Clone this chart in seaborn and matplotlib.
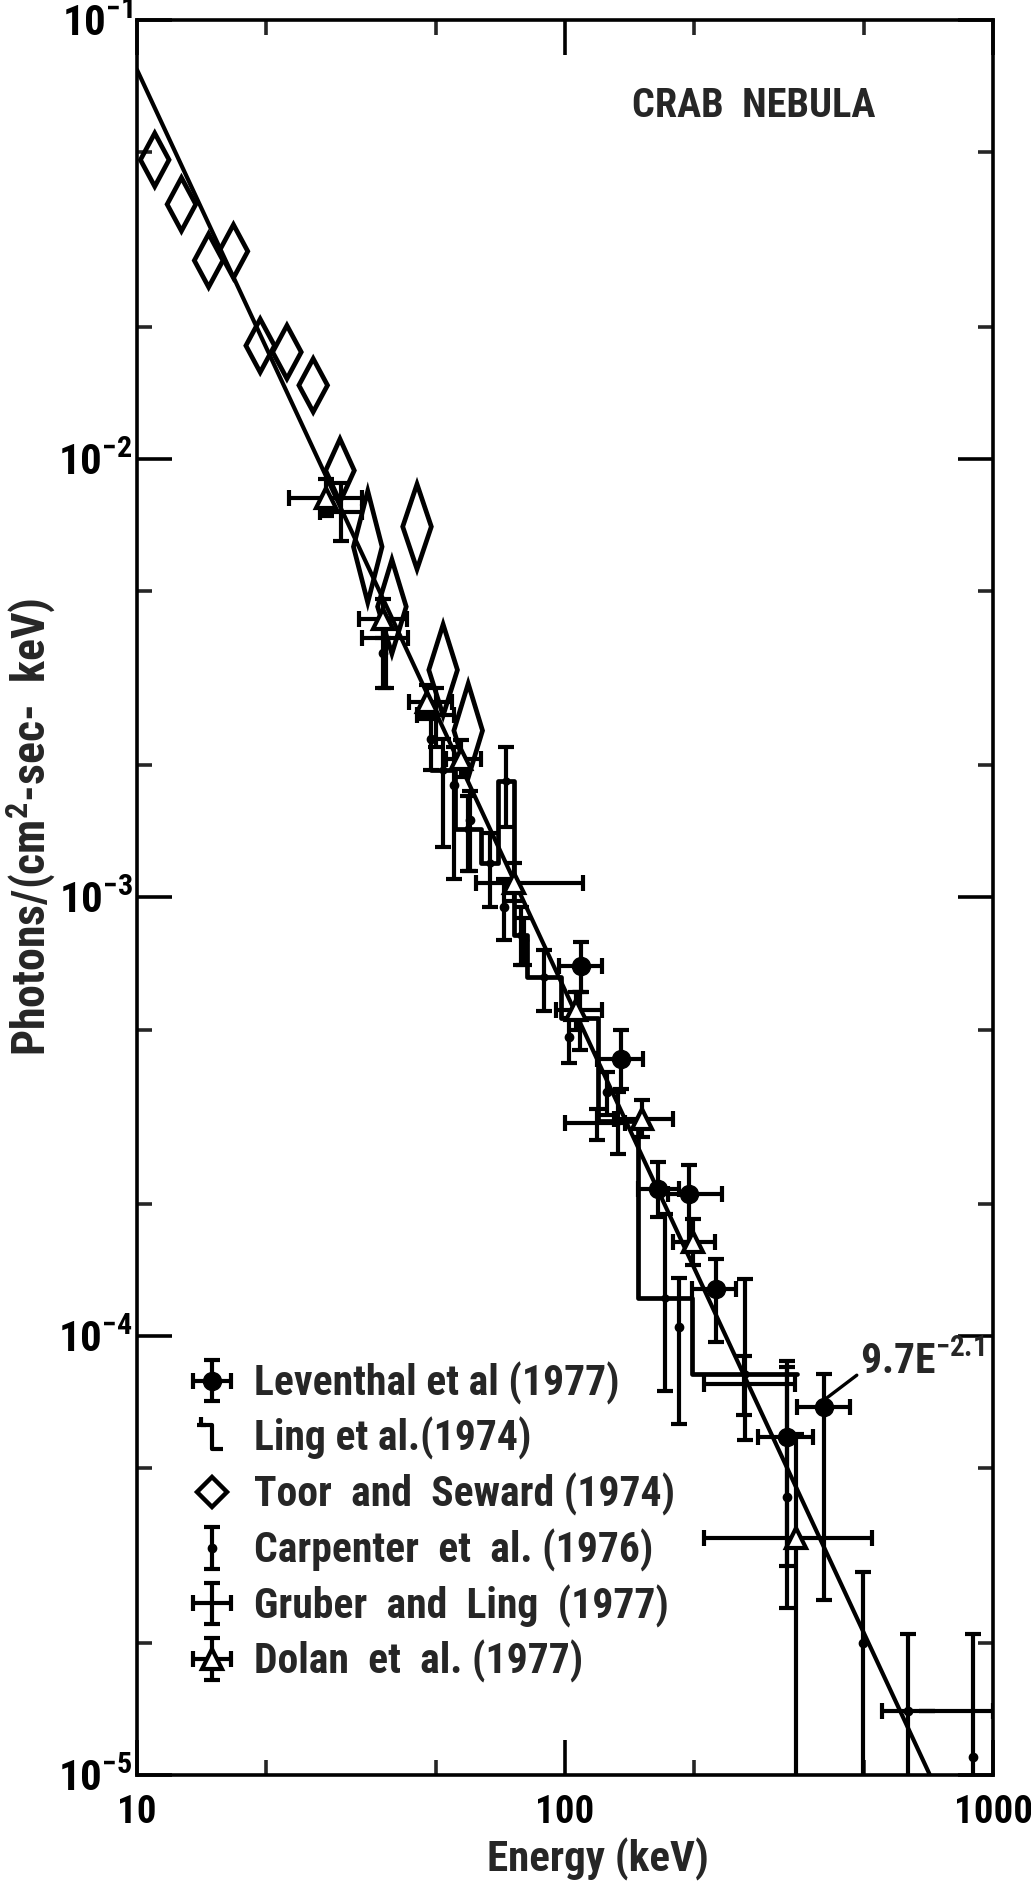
import numpy as np
import matplotlib
matplotlib.use("Agg")
import matplotlib.pyplot as plt
import matplotlib.ticker as mticker
from matplotlib import font_manager
from matplotlib.path import Path
from matplotlib.lines import Line2D
from matplotlib.container import ErrorbarContainer
from matplotlib.legend_handler import HandlerErrorbar
import seaborn as sns

# power law fit 9.7 E^-2.1 (straight line in log-log, end points)
fit_energy = [10, 1000]
fit_flux = [7.7e-2, 4.9e-6]

# Toor and Seward (1974) - diamonds, vertical extent = flux error
toor_energy = [11.0, 12.7, 14.7, 16.8, 19.4, 22.4, 25.8, 29.8, 34.6, 39.4, 45.1, 51.9, 59.4]
toor_flux = [0.048, 0.038, 0.0283, 0.0297, 0.0181, 0.0175, 0.0147, 0.0094, 0.0063, 0.0046, 0.0070, 0.0033, 0.0024]
toor_ferr = [0.15, 0.15, 0.15, 0.15, 0.15, 0.15, 0.15, 0.18, 0.34, 0.28, 0.25, 0.27, 0.28]

# Leventhal et al (1977)
lev_energy = [109, 135, 165, 195, 225, 330, 402]
lev_flux = [6.97e-4, 4.29e-4, 2.16e-4, 2.11e-4, 1.28e-4, 5.9e-5, 6.9e-5]
lev_e_lo = [97, 119, 148, 174, 198, 283, 348]
lev_e_hi = [122, 152, 185, 233, 251, 380, 464]
lev_f_lo = [6.1e-4, 3.65e-4, 1.87e-4, 1.64e-4, 9.7e-5, 3.0e-5, 2.5e-5]
lev_f_hi = [7.9e-4, 5.0e-4, 2.5e-4, 2.45e-4, 1.5e-4, 8.8e-5, 8.2e-5]

# Ling et al. (1974) - step spectrum
ling_edges = [48.6, 55.3, 63.8, 69.9, 76.0, 81.6, 97.8, 119.6, 148, 198, 349]
ling_flux = [1.95e-3, 1.43e-3, 1.2e-3, 1.84e-3, 8.2e-4, 6.6e-4, 5.3e-4, 3.1e-4, 1.22e-4, 8.2e-5]
ling_f_lo = [1.3e-3, 1.15e-3, 9.5e-4, 1.45e-3, 7.0e-4, 5.5e-4, 4.5e-4, 2.6e-4, 7.5e-5, 5.8e-5]
ling_f_hi = [2.3e-3, 1.7e-3, 1.4e-3, 2.2e-3, 9.5e-4, 7.6e-4, 6.1e-4, 3.6e-4, 1.9e-4, 1.35e-4]

# Carpenter et al. (1976)
car_energy = [37.5, 48.5, 55.0, 60.0, 72.0, 80.0, 102, 125, 185, 330, 498, 632, 900]
car_flux = [3.6e-3, 2.3e-3, 1.8e-3, 1.5e-3, 9.5e-4, 8.0e-4, 4.8e-4, 3.6e-4, 1.05e-4, 4.3e-5, 2.0e-5, 1.4e-5, 1.1e-5]
car_f_lo = [3.0e-3, 1.95e-3, 1.1e-3, 1.15e-3, 8.0e-4, 7.0e-4, 4.2e-4, 3.2e-4, 6.3e-5, 2.4e-5, 8e-6, 8e-6, 8e-6]
car_f_hi = [4.3e-3, 2.6e-3, 2.2e-3, 1.75e-3, 1.1e-3, 9.0e-4, 5.3e-4, 4.0e-4, 1.36e-4, 8.5e-5, 2.9e-5, 2.1e-5, 2.1e-5]

# Gruber and Ling (1977)
gru_energy = [30.0, 38.1, 50.0, 119, 262, 700]
gru_flux = [7.55e-3, 3.9e-3, 2.6e-3, 3.06e-4, 7.8e-5, 1.4e-5]
gru_e_lo = [26.7, 33.5, 45.0, 100, 211, 550]
gru_e_hi = [33.5, 43.0, 55.0, 138, 344, 1000]
gru_f_lo = [6.5e-3, 3.0e-3, 2.2e-3, 2.8e-4, 6.6e-5, 1.4e-5]
gru_f_hi = [8.8e-3, 4.3e-3, 3.0e-3, 3.3e-4, 9.0e-5, 1.4e-5]

# Dolan et al. (1977)
dol_energy = [27.6, 37.6, 47.7, 57.2, 76, 106, 151, 199, 347]
dol_flux = [8.15e-3, 4.31e-3, 2.79e-3, 2.07e-3, 1.08e-3, 5.53e-4, 3.12e-4, 1.64e-4, 3.47e-5]
dol_e_lo = [22.7, 33.0, 43.3, 52.6, 61.9, 95.2, 130, 179, 211]
dol_e_hi = [33.5, 42.8, 54.4, 63.7, 110, 122, 179, 224, 520]
dol_f_lo = [7.4e-3, 3.9e-3, 2.55e-3, 1.88e-3, 9.8e-4, 5.0e-4, 2.85e-4, 1.45e-4, 9.0e-6]
dol_f_hi = [9.0e-3, 4.8e-3, 3.05e-3, 2.28e-3, 1.2e-3, 6.1e-4, 3.45e-4, 1.85e-4, 6.0e-5]

legend_labels = ["Leventhal et al (1977)", "Ling et al.(1974)", "Toor  and  Seward (1974)",
                 "Carpenter  et  al. (1976)", "Gruber  and  Ling  (1977)", "Dolan  et  al. (1977)"]

sns.set_style("ticks")
installed = {f.name for f in font_manager.fontManager.ttflist}
font = next((f for f in ["Liberation Sans Narrow", "Roboto Condensed", "DejaVu Sans"] if f in installed), "DejaVu Sans")
plt.rcParams["font.family"] = [font, "DejaVu Sans"]
plt.rcParams["font.weight"] = "bold"
plt.rcParams["axes.labelweight"] = "bold"
plt.rcParams["mathtext.fontset"] = "custom"
plt.rcParams["mathtext.rm"] = font + ":bold"
plt.rcParams["mathtext.default"] = "regular"


def errs(center, lo, hi):
    c = np.asarray(center, float)
    return [c - np.asarray(lo, float), np.asarray(hi, float) - c]


fig = plt.figure(figsize=(10.31, 18.84), dpi=100)
ax = fig.add_axes([0.1329, 0.0579, 0.8303, 0.9315])
ax.set_xscale("log")
ax.set_yscale("log")

LW = 3.0
eb_style = dict(color="black", capsize=6, elinewidth=LW, capthick=LW)

# fit line
sns.lineplot(x=fit_energy, y=fit_flux, ax=ax, color="black", linewidth=3.0, zorder=3)

# Toor & Seward diamonds
w = 1.08
for e, f, df in zip(toor_energy, toor_flux, toor_ferr):
    ax.fill([e, e * w, e, e / w], [f * (1 + df), f, f / (1 + df), f],
            facecolor="none", edgecolor="black", linewidth=3.4, zorder=4)

# Ling step spectrum
sns.lineplot(x=ling_edges, y=ling_flux + [ling_flux[-1]], ax=ax, drawstyle="steps-post",
             color="black", linewidth=3.4, zorder=3)
ling_centers = np.sqrt(np.array(ling_edges[:-1]) * np.array(ling_edges[1:]))
ax.errorbar(ling_centers, ling_flux, yerr=errs(ling_flux, ling_f_lo, ling_f_hi),
            fmt="o", ms=5, **eb_style, zorder=3)

car = ax.errorbar(car_energy, car_flux, yerr=errs(car_flux, car_f_lo, car_f_hi),
                  fmt="o", ms=6, **eb_style, zorder=3)
gru = ax.errorbar(gru_energy, gru_flux, xerr=errs(gru_energy, gru_e_lo, gru_e_hi),
                  yerr=errs(gru_flux, gru_f_lo, gru_f_hi), fmt="none", **eb_style, zorder=3)
lev = ax.errorbar(lev_energy, lev_flux, xerr=errs(lev_energy, lev_e_lo, lev_e_hi),
                  yerr=errs(lev_flux, lev_f_lo, lev_f_hi), fmt="o", ms=13, **eb_style, zorder=5)
dol = ax.errorbar(dol_energy, dol_flux, xerr=errs(dol_energy, dol_e_lo, dol_e_hi),
                  yerr=errs(dol_flux, dol_f_lo, dol_f_hi), fmt="^", ms=15, mfc="white",
                  mec="black", mew=3.0, **eb_style, zorder=6)

ax.set_xlim(10, 1000)
ax.set_ylim(1e-5, 1e-1)

# ticks
ax.xaxis.set_major_locator(mticker.FixedLocator([10, 100, 1000]))
ax.xaxis.set_minor_locator(mticker.FixedLocator([20, 50, 200, 500]))
ax.xaxis.set_major_formatter(mticker.FuncFormatter(lambda v, p: f"{v:g}"))
ax.xaxis.set_minor_formatter(mticker.NullFormatter())
ax.yaxis.set_major_locator(mticker.LogLocator(base=10, numticks=10))
ax.yaxis.set_minor_locator(mticker.LogLocator(base=10, subs=[2, 5], numticks=10))
ax.yaxis.set_major_formatter(mticker.FuncFormatter(lambda v, p: r"$10^{%d}$" % round(np.log10(v))))
ax.yaxis.set_minor_formatter(mticker.NullFormatter())
ax.tick_params(which="major", direction="in", length=25, width=2.6, top=True, right=True,
               labelsize=28, color="black", labelcolor="black")
ax.tick_params(axis="x", which="major", pad=14)
ax.tick_params(axis="y", which="major", pad=3, labelsize=31)
ax.tick_params(which="minor", direction="in", length=11, width=2.6, top=True, right=True)
for s in ax.spines.values():
    s.set_linewidth(2.6)
    s.set_color("black")

ax.set_xlabel("Energy (keV)", fontsize=31, fontweight="bold")
ax.set_ylabel("Photons/(cm$^2$-sec-  keV)", fontsize=33, fontweight="bold")
ax.xaxis.set_label_coords(0.538, -0.036)
ax.yaxis.set_label_coords(-0.092, 0.54)

ax.text(0.72, 0.951, "CRAB  NEBULA", transform=ax.transAxes, ha="center", va="center", fontsize=29)

ax.annotate("9.7E$^{-2.1}$", xy=(389, 6.97e-5), xytext=(489, 8.2e-5), ha="left", va="baseline",
            fontsize=30, arrowprops=dict(arrowstyle="-", lw=2.4, color="black",
                                         shrinkA=0, shrinkB=0, relpos=(0.0, 0.25)))

# legend
ling_marker = Path([(-0.5, 0.9), (-0.5, 0.5), (0.0, 0.5), (0.0, -0.6), (0.5, -0.6), (0.5, -0.9),
                    (-0.7, 0.5), (-0.3, 0.5)],
                   [Path.MOVETO, Path.LINETO, Path.LINETO, Path.LINETO, Path.LINETO, Path.MOVETO,
                    Path.MOVETO, Path.LINETO])
ling_handle = Line2D([], [], marker=ling_marker, ms=28, mew=3.0, color="black", linestyle="none",
                     fillstyle="none")
toor_handle = Line2D([], [], marker="D", ms=15, mew=3.2, mfc="none", mec="black", linestyle="none")
ax.legend([lev, ling_handle, toor_handle, car, gru, dol], legend_labels, loc="upper left",
          bbox_to_anchor=(0.012, 0.257), frameon=False, fontsize=30, handlelength=1.3,
          handletextpad=0.35, labelspacing=0.3, borderpad=0.4,
          handler_map={ErrorbarContainer: HandlerErrorbar(xerr_size=0.45, yerr_size=0.5)})

fig.savefig("out.png", dpi=100)
